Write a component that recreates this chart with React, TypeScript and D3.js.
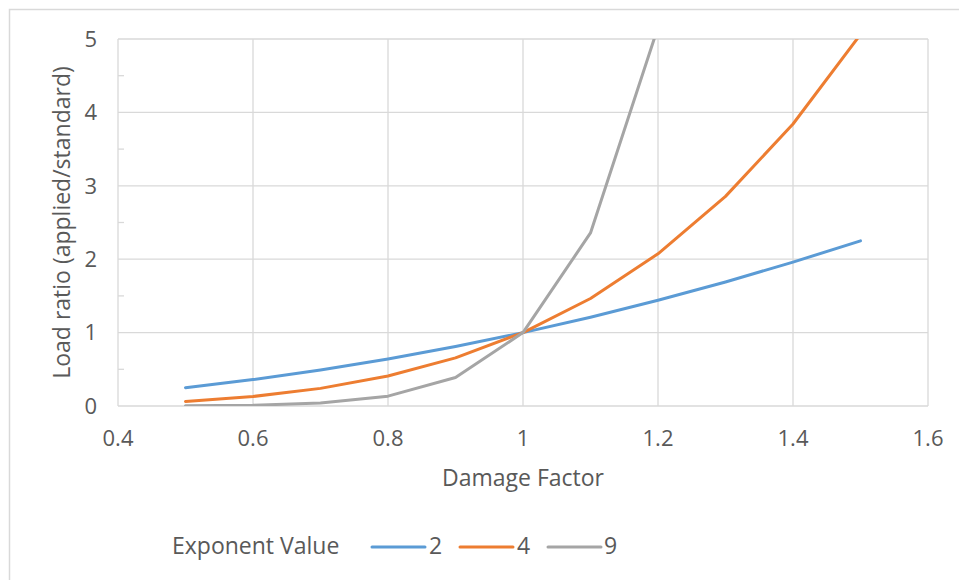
import React from "react";
import * as d3 from "d3";

const damageFactor = [0.5, 0.6, 0.7, 0.8, 0.9, 1.0, 1.1, 1.2, 1.3, 1.4, 1.5];
const exp2 = [0.25, 0.36, 0.49, 0.64, 0.81, 1.0, 1.21, 1.44, 1.69, 1.96, 2.25];
const exp4 = [0.0625, 0.1296, 0.2401, 0.4096, 0.6561, 1.0, 1.4641, 2.0736, 2.8561, 3.8416, 5.0625];
const exp9 = [0.002, 0.0101, 0.0404, 0.1342, 0.3874, 1.0, 2.3579, 5.1598, 10.6045, 20.661, 38.443];
const seriesNames = ["2", "4", "9"];
const seriesColors = ["#5b9bd5", "#ed7d31", "#a5a5a5"];
const xTicks = [0.4, 0.6, 0.8, 1.0, 1.2, 1.4, 1.6];
const yTicks = [0, 1, 2, 3, 4, 5];
const yMinorTicks = [0.5, 1.5, 2.5, 3.5, 4.5];

const FONT = "'Open Sans', Lato, sans-serif";
const TXT = "#595959";
const GRID = "#d9d9d9";

export default function App() {
  const left = 118, right = 928, top = 39, bottom = 406;
  const x = d3.scaleLinear().domain([0.4, 1.6]).range([left, right]);
  const y = d3.scaleLinear().domain([0, 5]).range([bottom, top]);
  const all = [exp2, exp4, exp9];
  const line = d3
    .line<number>()
    .x((_, i) => x(damageFactor[i]))
    .y((d) => y(d));

  const legendItems = [
    { x0: 372, tx: 429 },
    { x0: 460, tx: 517 },
    { x0: 548, tx: 604 },
  ];

  return (
    <svg
      width={959}
      height={580}
      style={{ position: "absolute", left: 0, top: 0, background: "#fff" }}
    >
      <rect x={9.5} y={9.5} width={960} height={580} fill="#fff" stroke={GRID} strokeWidth={1.5} />
      <defs>
        <clipPath id="plotclip">
          <rect x={left} y={top} width={right - left} height={bottom - top} />
        </clipPath>
      </defs>
      {/* grid */}
      {xTicks.map((t) => (
        <line key={"gx" + t} x1={x(t)} x2={x(t)} y1={top} y2={bottom} stroke={GRID} strokeWidth={1.3} />
      ))}
      {yTicks.map((t) => (
        <line key={"gy" + t} x1={left} x2={right} y1={y(t)} y2={y(t)} stroke={GRID} strokeWidth={1.3} />
      ))}
      {yMinorTicks.map((t) => (
        <line key={"my" + t} x1={left} x2={left + 6} y1={y(t)} y2={y(t)} stroke={GRID} strokeWidth={1.3} />
      ))}
      {/* series */}
      <g clipPath="url(#plotclip)">
        {all.map((s, i) => (
          <path
            key={seriesNames[i]}
            d={line(s) || ""}
            fill="none"
            stroke={seriesColors[i]}
            strokeWidth={3}
            strokeLinejoin="round"
            strokeLinecap="round"
          />
        ))}
      </g>
      {/* tick labels */}
      {yTicks.map((t) => (
        <text key={"ly" + t} x={97} y={y(t)} dy="0.35em" textAnchor="end" fontFamily={FONT} fontSize={22} fill={TXT}>
          {t}
        </text>
      ))}
      {xTicks.map((t) => (
        <text key={"lx" + t} x={x(t)} y={438} dy="0.35em" textAnchor="middle" fontFamily={FONT} fontSize={22} fill={TXT}>
          {String(Math.round(t * 10) / 10)}
        </text>
      ))}
      <text x={x(1.0)} y={478} dy="0.35em" textAnchor="middle" fontFamily={FONT} fontSize={23} fill={TXT}>
        Damage Factor
      </text>
      <text
        transform={`translate(62,${(top + bottom) / 2}) rotate(-90)`}
        dy="0.35em"
        textAnchor="middle"
        fontFamily={FONT}
        fontSize={23}
        fill={TXT}
      >
        Load ratio (applied/standard)
      </text>
      {/* legend */}
      <text x={172} y={546} dy="0.35em" fontFamily={FONT} fontSize={23} fill={TXT}>
        Exponent Value
      </text>
      {legendItems.map((it, i) => (
        <g key={"lg" + i}>
          <line x1={it.x0} x2={it.x0 + 53} y1={547} y2={547} stroke={seriesColors[i]} strokeWidth={3} strokeLinecap="round" />
          <text x={it.tx} y={546} dy="0.35em" fontFamily={FONT} fontSize={23} fill={TXT}>
            {seriesNames[i]}
          </text>
        </g>
      ))}
    </svg>
  );
}
